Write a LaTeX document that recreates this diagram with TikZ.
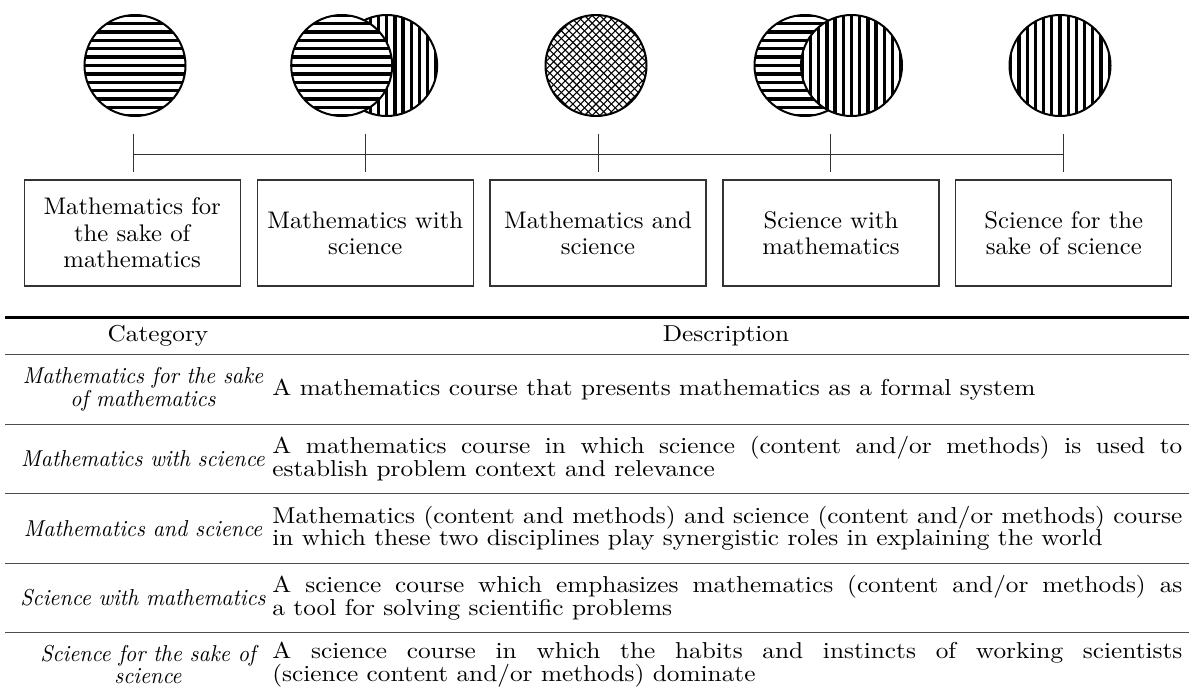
\documentclass[tikz,border=0pt]{standalone}
\usepackage{fontspec}
\newfontfamily\boxfont{lmroman10}[Extension=.otf, UprightFont=*-regular, FakeStretch=1.03]
\newfontfamily\descfont{lmroman10}[Extension=.otf, UprightFont=*-regular, FakeStretch=1.1]
\newfontfamily\labfont{lmroman10}[Extension=.otf, UprightFont=*-italic, FakeStretch=0.95]
\begin{document}
\begin{tikzpicture}[x=0.5pt,y=-0.5pt,
  disc/.style={circle, draw=black, line width=1pt, minimum size=50.5pt, inner sep=0pt, fill=white},
  hdisc/.style={disc, path picture={
     \begin{scope}[shift={(path picture bounding box.center)}]
       \foreach \k in {-6,...,6}{\draw[line width=1.65pt] (-30pt,\k*4.2pt) -- (30pt,\k*4.2pt);}
     \end{scope}}},
  vdisc/.style={disc, path picture={
     \begin{scope}[shift={(path picture bounding box.center)}]
       \foreach \k in {-6,...,6}{\draw[line width=1.65pt] (\k*4.1pt,-30pt) -- (\k*4.1pt,30pt);}
     \end{scope}}},
  xdisc/.style={disc, path picture={
     \begin{scope}[shift={(path picture bounding box.center)}]
       \foreach \k in {-10,...,10}{
         \draw[line width=0.55pt] (\k*3.85pt-40pt,-40pt) -- (\k*3.85pt+40pt,40pt);
         \draw[line width=0.55pt] (\k*3.85pt-40pt,40pt) -- (\k*3.85pt+40pt,-40pt);}
     \end{scope}}},
  catbox/.style={draw=black!80, line width=0.6pt, minimum width=108pt, minimum height=53pt,
     inner sep=0pt, align=center, font=\boxfont\fontsize{12}{13.2}\selectfont},
  tick/.style={draw=black!80, line width=0.5pt},
  rule/.style={draw=black!70, line width=0.75pt},
  toprule/.style={draw=black, line width=1.5pt},
  headtxt/.style={inner sep=0pt, font=\descfont\fontsize{11.5}{11.3}\selectfont},
  labtxt/.style={inner sep=0pt, align=center, font=\labfont\fontsize{11.5}{11.3}\selectfont},
  desctxt/.style={inner sep=0pt, anchor=west, text width=455pt, align=justify,
     font=\descfont\fontsize{11.5}{11.3}\selectfont}
]
\useasboundingbox (0,0) rectangle (1189,697);

% circles
\node[hdisc] (c1) at (135,65.5) {};
\node[vdisc] (c2b) at (386.7,65.5) {};
\node[hdisc] (c2a) at (341.7,65.5) {};
\node[xdisc] (c3) at (596,65.5) {};
\node[hdisc] (c4a) at (805,65.5) {};
\node[vdisc] (c4b) at (851.5,65.5) {};
\node[vdisc] (c5) at (1060,65.5) {};

% boxes
\node[catbox] (b1) at (132.2,233) {Mathematics for\\the sake of\\mathematics};
\node[catbox] (b2) at (365.3,233) {Mathematics with\\science};
\node[catbox] (b3) at (598,233) {Mathematics and\\science};
\node[catbox] (b4) at (831,233) {Science with\\mathematics};
\node[catbox] (b5) at (1063.8,233) {Science for the\\sake of science};

% timeline
\foreach \i/\x in {1/133.2,2/365.5,3/598.3,4/830.5,5/1063}{
  \coordinate (t\i) at (\x,134);
  \coordinate (m\i) at (\x,154);
  \coordinate (u\i) at (\x,172);
  \draw[tick] (t\i) -- (u\i);
}
\draw[tick] (m1) -- (m5);

% table rules
\draw[toprule] (5,317.3) -- (1189,317.3);
\foreach \y in {354.3,424.3,493.3,563.3,632.3}{\draw[rule] (5,\y) -- (1189,\y);}

% header
\node[headtxt] (hcat) at (158,336) {Category};
\node[headtxt] (hdesc) at (726,336) {Description};

% rows
\node[labtxt] (l1) at (143,389.3) {Mathematics for the sake\\of mathematics};
\node[desctxt] (d1) at (272,389.3) {A mathematics course that presents mathematics as a formal system};

\node[labtxt] (l2) at (143,458.8) {Mathematics with science};
\node[desctxt] (d2) at (272,458.8) {A mathematics course in which science (content and/or methods) is used to\linebreak establish problem context and relevance};

\node[labtxt] (l3) at (143,528.3) {Mathematics and science};
\node[desctxt] (d3) at (272,528.3) {Mathematics (content and methods) and science (content and/or methods) course\linebreak in which these two disciplines play synergistic roles in explaining the world};

\node[labtxt] (l4) at (143,597.8) {Science with mathematics};
\node[desctxt] (d4) at (272,597.8) {A science course which emphasizes mathematics (content and/or methods) as\linebreak a tool for solving scientific problems};

\node[labtxt] (l5) at (148,664.6) {Science for the sake of\\science};
\node[desctxt] (d5) at (272,664.6) {A science course in which the habits and instincts of working scientists\linebreak (science content and/or methods) dominate};
\end{tikzpicture}
\end{document}
